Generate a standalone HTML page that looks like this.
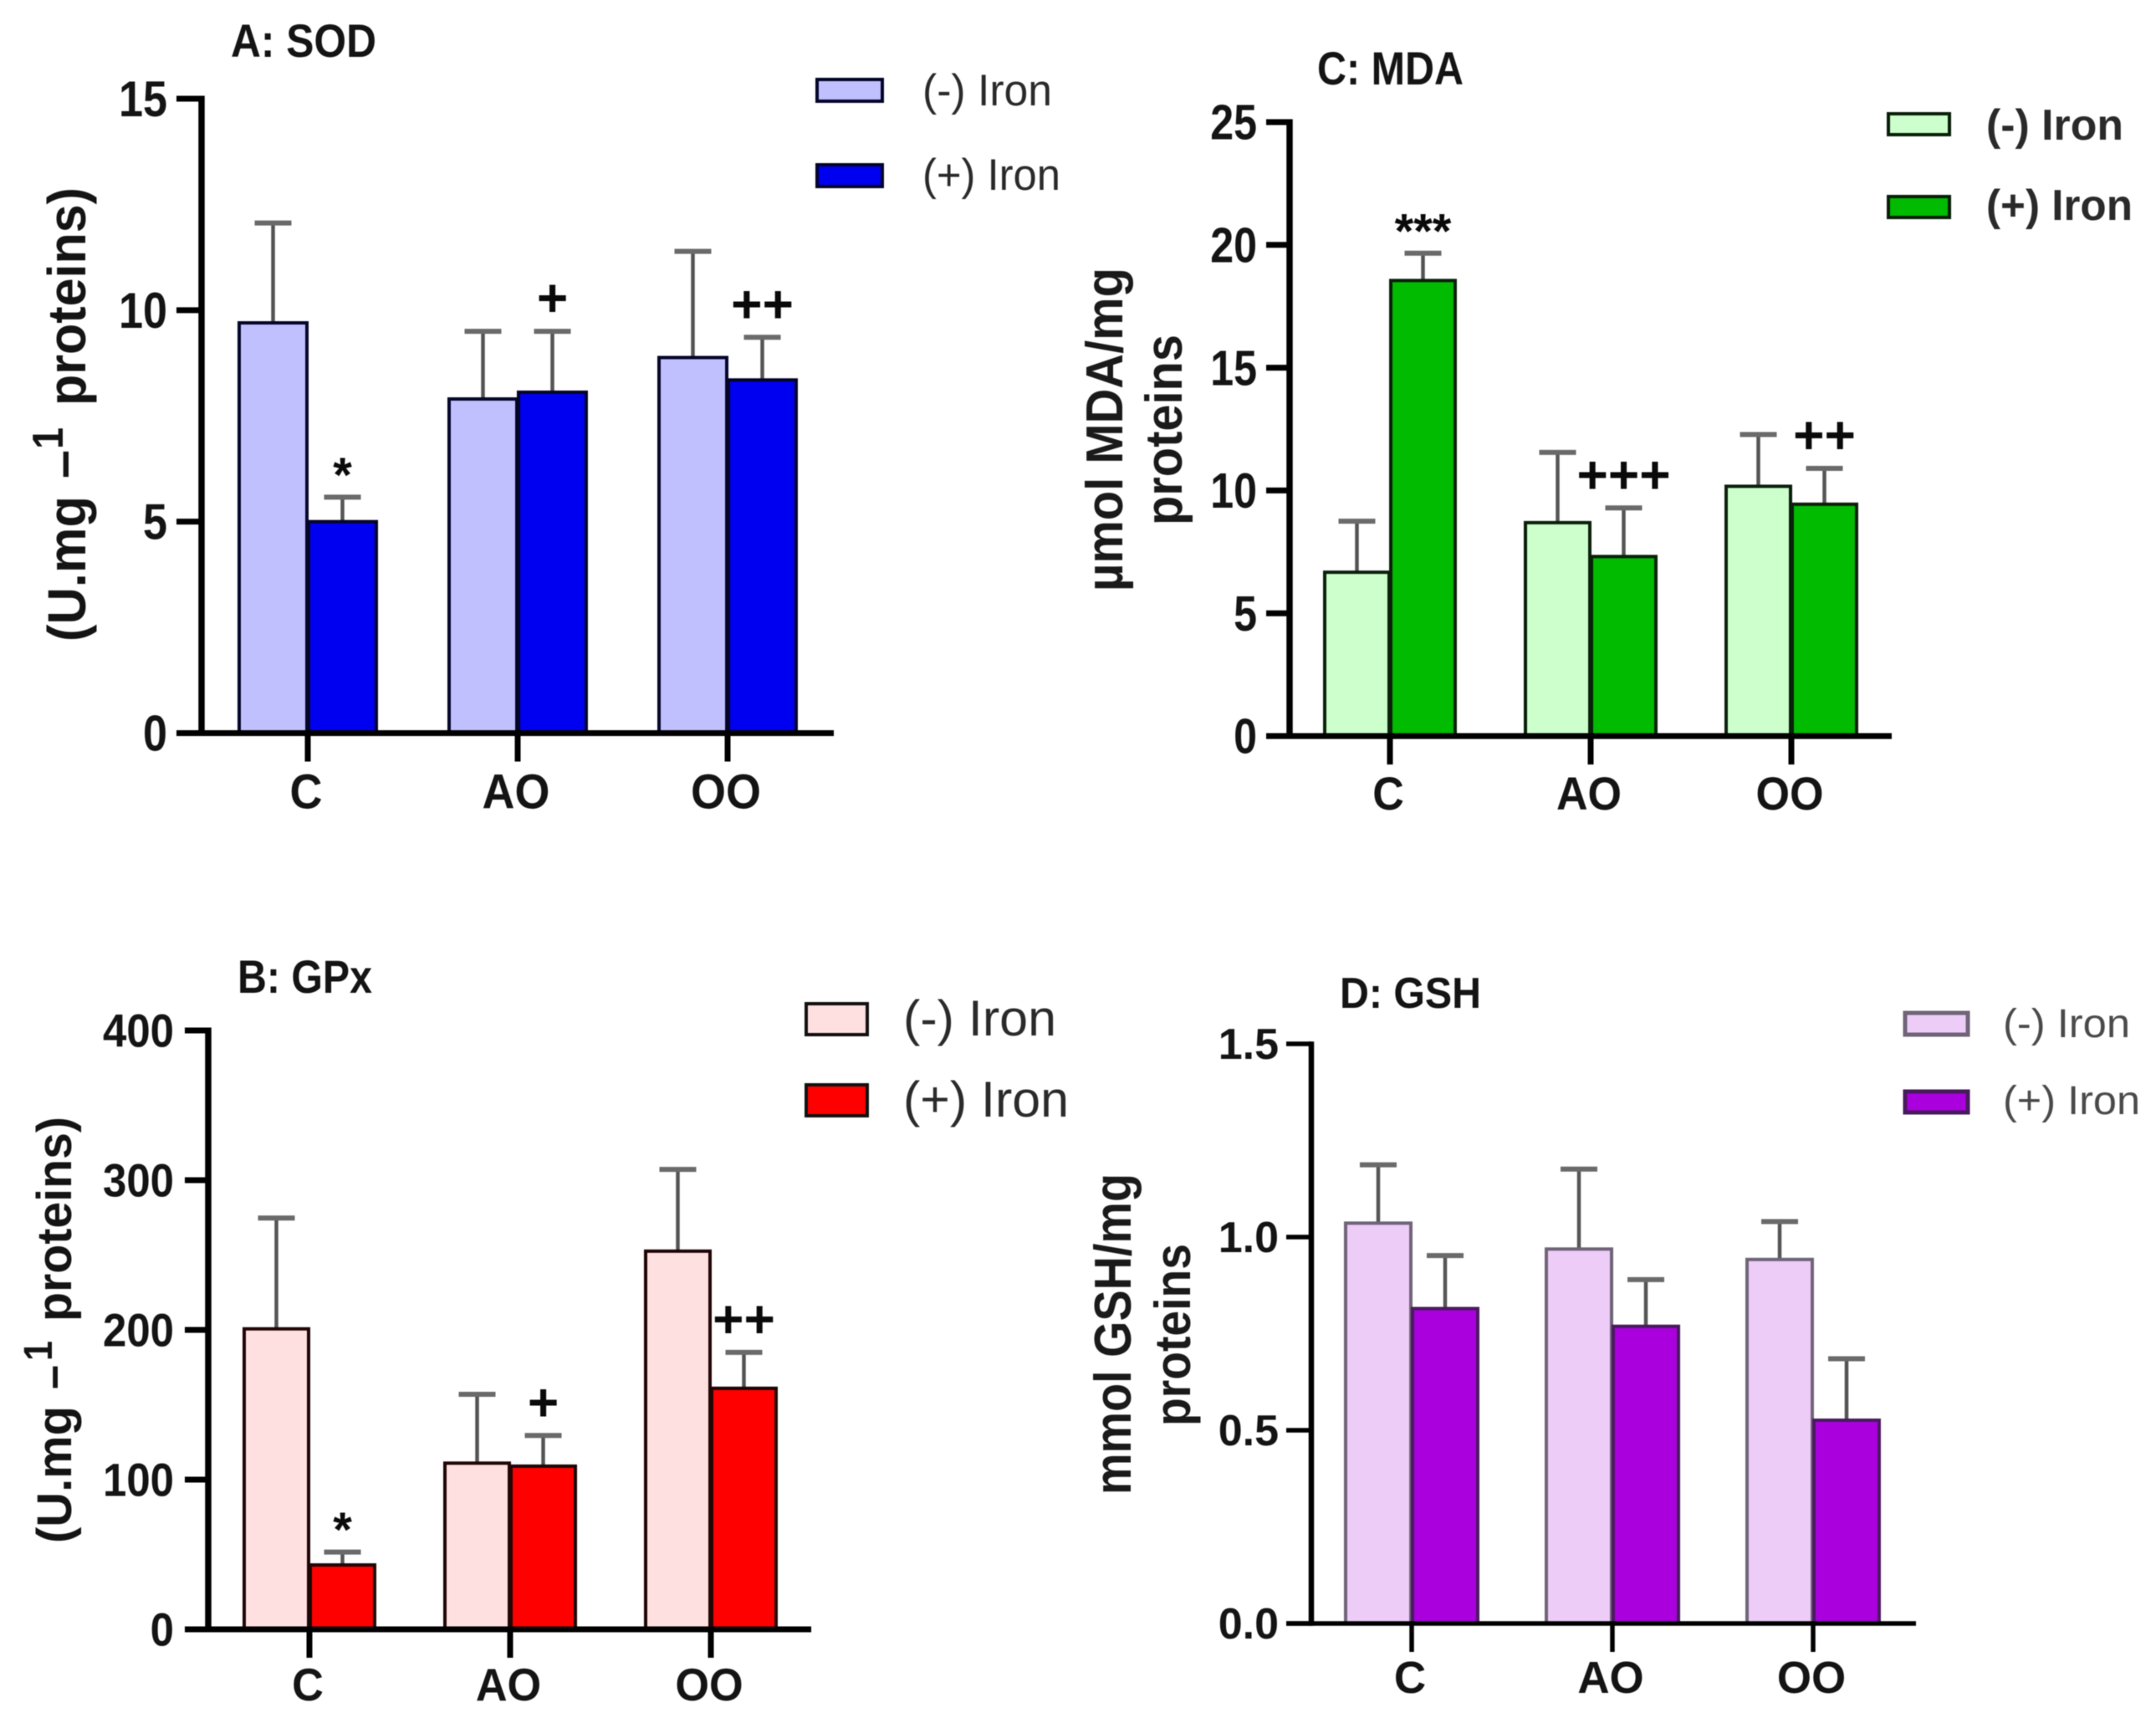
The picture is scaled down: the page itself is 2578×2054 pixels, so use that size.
<!DOCTYPE html>
<html lang="en">
<head>
<meta charset="utf-8">
<title>Antioxidant markers with and without iron</title>
<style>
html,body{margin:0;padding:0;background:#fff}
svg{display:block;font-family:"Liberation Sans",sans-serif;filter:blur(0.6px)}
.t{font-weight:bold;font-size:56px;fill:#141414}
.yt{font-weight:bold;font-size:64px;fill:#141414}
.yt2{font-weight:bold;font-size:62px;fill:#1a1a1a}
.lg{font-size:53px;fill:#2a2a2a}
</style>
</head>
<body>
<svg id="figure" width="2578" height="2054" viewBox="0 0 2578 2054" xmlns="http://www.w3.org/2000/svg">
<rect x="0" y="0" width="2578" height="2054" fill="#ffffff"/>

<g>
<text class="t" x="276" y="68" textLength="174" lengthAdjust="spacingAndGlyphs">A: SOD</text>
<text class="yt" transform="translate(102,767) rotate(-90)" textLength="174" lengthAdjust="spacingAndGlyphs">(U.mg</text>
<text class="yt" transform="translate(96,572) rotate(-90)" textLength="34" lengthAdjust="spacingAndGlyphs">–</text>
<text class="yt" style="font-size:52px" transform="translate(75,537) rotate(-90)" textLength="26" lengthAdjust="spacingAndGlyphs">1</text>
<text class="yt" transform="translate(102,485) rotate(-90)" textLength="261" lengthAdjust="spacingAndGlyphs">proteins)</text>
<rect x="977" y="95" width="78" height="26" fill="#c0c0ff" stroke="#05052a" stroke-width="4"/>
<rect x="977" y="197" width="78" height="26" fill="#0000f0" stroke="#05052a" stroke-width="4"/>
<text class="lg" x="1103" y="126" textLength="155" lengthAdjust="spacingAndGlyphs">(-) Iron</text>
<text class="lg" x="1103" y="227" textLength="165" lengthAdjust="spacingAndGlyphs">(+) Iron</text>
</g>

<g>
<text class="t" x="1575" y="101" textLength="175" lengthAdjust="spacingAndGlyphs">C: MDA</text>
<text class="yt2" transform="translate(1342,707) rotate(-90)" textLength="387" lengthAdjust="spacingAndGlyphs">µmol MDA/mg</text>
<text class="yt2" transform="translate(1413,628) rotate(-90)" textLength="228" lengthAdjust="spacingAndGlyphs">proteins</text>
<rect x="2258" y="136" width="73" height="25" fill="#ccffcc" stroke="#0a200a" stroke-width="4"/>
<rect x="2258" y="235" width="73" height="25" fill="#00bb00" stroke="#0a200a" stroke-width="4"/>
<text class="lg" style="font-weight:bold;font-size:52px" x="2375" y="167" textLength="164" lengthAdjust="spacingAndGlyphs">(-) Iron</text>
<text class="lg" style="font-weight:bold;font-size:52px" x="2375" y="263" textLength="175" lengthAdjust="spacingAndGlyphs">(+) Iron</text>
</g>

<g>
<text class="t" x="284" y="1187" textLength="161" lengthAdjust="spacingAndGlyphs">B: GPx</text>
<text class="yt" style="font-size:58px" transform="translate(85,1845) rotate(-90)" textLength="164" lengthAdjust="spacingAndGlyphs">(U.mg</text>
<text class="yt" style="font-size:58px" transform="translate(82,1661) rotate(-90)" textLength="29" lengthAdjust="spacingAndGlyphs">–</text>
<text class="yt" style="font-size:48px" transform="translate(62,1627) rotate(-90)" textLength="24" lengthAdjust="spacingAndGlyphs">1</text>
<text class="yt" style="font-size:58px" transform="translate(85,1580) rotate(-90)" textLength="245" lengthAdjust="spacingAndGlyphs">proteins)</text>
<rect x="964" y="1200" width="73" height="37" fill="#ffe0e0" stroke="#111" stroke-width="4"/>
<rect x="964" y="1297" width="73" height="37" fill="#ff0000" stroke="#111" stroke-width="4"/>
<text class="lg" style="font-size:60px" x="1080" y="1238" textLength="183" lengthAdjust="spacingAndGlyphs">(-) Iron</text>
<text class="lg" style="font-size:60px" x="1080" y="1335" textLength="198" lengthAdjust="spacingAndGlyphs">(+) Iron</text>
</g>

<g>
<text class="t" style="font-size:52px" x="1602" y="1205" textLength="169" lengthAdjust="spacingAndGlyphs">D: GSH</text>
<text class="yt2" transform="translate(1352,1787) rotate(-90)" textLength="384" lengthAdjust="spacingAndGlyphs">mmol GSH/mg</text>
<text class="yt2" style="font-size:60px" transform="translate(1423,1705) rotate(-90)" textLength="218" lengthAdjust="spacingAndGlyphs">proteins</text>
<rect x="2278" y="1211" width="75" height="26" fill="#eeccf8" stroke="#6f6478" stroke-width="5"/>
<rect x="2278" y="1305" width="75" height="25" fill="#aa00dd" stroke="#4a1a60" stroke-width="5"/>
<text class="lg" style="font-size:48px;fill:#4a4a4a" x="2395" y="1240" textLength="152" lengthAdjust="spacingAndGlyphs">(-) Iron</text>
<text class="lg" style="font-size:48px;fill:#4a4a4a" x="2395" y="1332" textLength="164" lengthAdjust="spacingAndGlyphs">(+) Iron</text>
</g>
</svg>

<script>
const categories = ['C', 'AO', 'OO'];

const sodTicks = [0, 5, 10, 15];
const sodMinus = [9.7, 7.9, 8.88];
const sodPlus = [5.0, 8.06, 8.35];
const sodMinusSd = [2.36, 1.6, 2.51];
const sodPlusSd = [0.58, 1.44, 1.01];
const sodMarks = ['*', '+', '++'];

const mdaTicks = [0, 5, 10, 15, 20, 25];
const mdaMinus = [6.67, 8.69, 10.17];
const mdaPlus = [18.55, 7.31, 9.44];
const mdaMinusSd = [2.08, 2.86, 2.11];
const mdaPlusSd = [1.11, 1.98, 1.46];
const mdaMarks = ['***', '+++', '++'];

const gpxTicks = [0, 100, 200, 300, 400];
const gpxMinus = [200.7, 111, 252.6];
const gpxPlus = [43, 109, 161];
const gpxMinusSd = [74, 46, 54.6];
const gpxPlusSd = [8.6, 20.5, 24];
const gpxMarks = ['*', '+', '++'];

const gshTicks = ['0.0', '0.5', '1.0', '1.5'];
const gshMinus = [1.036, 0.969, 0.942];
const gshPlus = [0.815, 0.769, 0.526];
const gshMinusSd = [0.151, 0.207, 0.098];
const gshPlusSd = [0.137, 0.121, 0.159];
const gshMarks = ['', '', ''];

const SVG_NS = 'http://www.w3.org/2000/svg';
const figure = document.getElementById('figure');

function make(parent, tag, attrs, text) {
  const node = document.createElementNS(SVG_NS, tag);
  for (const key in attrs) node.setAttribute(key, attrs[key]);
  if (text !== undefined) node.textContent = text;
  parent.appendChild(node);
  return node;
}

function drawPanel(p) {
  const yScale = function (v) {
    return p.y0 - (Number(v) - p.yMin) / (p.yMax - p.yMin) * (p.y0 - p.yTop);
  };
  const xBand = function (i) {
    return p.x0 + i * p.step;
  };

  const panel = make(figure, 'g', {});
  
  

  // bars and error bars
  const series = [
    { key: 'minus', values: p.minus, sd: p.minusSd, fill: p.minusFill, stroke: p.minusStroke, side: -1 },
    { key: 'plus', values: p.plus, sd: p.plusSd, fill: p.plusFill, stroke: p.plusStroke, side: 0 }
  ];
  series.forEach(function (s) {
    s.values.forEach(function (v, i) {
      const left = xBand(i) + s.side * p.barW;
      const cx = left + p.barW / 2;
      const top = yScale(v);
      const errTop = yScale(v + s.sd[i]);

      const stem = make(panel, 'line', { x1: cx, x2: cx, y1: top, y2: errTop, stroke: '#555', 'stroke-width': 4.5 });
      
      

      const cap = make(panel, 'line', { x1: cx - 22, x2: cx + 22, y1: errTop, y2: errTop, stroke: '#6a6a6a', 'stroke-width': 6 });
      
      

      const bar = make(panel, 'rect', {
        x: left + 1, y: top, width: p.barW - 2, height: p.y0 - top,
        fill: s.fill, stroke: s.stroke, 'stroke-width': 4
      });
      
      
    });
  });

  // significance marks sit above the upper error cap of the (+) Iron bars
  p.marks.forEach(function (m, i) {
    if (!m) return;
    const isStar = m.charAt(0) === '*';
    const fs = isStar ? 58 : 64;
    const cx = xBand(i) + p.barW / 2;
    const errTop = yScale(p.plus[i] + p.plusSd[i]);
    const shift = isStar ? 0.56 : 0.33;
    const mark = make(panel, 'text', {
      x: cx, y: errTop - 39 + shift * fs, 'text-anchor': 'middle',
      'font-size': fs, 'font-weight': 'bold', fill: '#0a0a0a'
    }, m);
    
    
  });

  // y axis
  const yAxis = make(panel, 'line', { x1: p.axisX, x2: p.axisX, y1: p.yTop - p.tickW / 2, y2: p.y0 + p.tickW / 2, stroke: '#000', 'stroke-width': p.axisW });
  
  

  p.ticks.forEach(function (t) {
    const y = yScale(t);
    const tick = make(panel, 'line', { x1: p.axisLeft, x2: p.axisX, y1: y, y2: y, stroke: '#000', 'stroke-width': p.tickW });
    
    

    const label = make(panel, 'text', {
      transform: 'translate(' + p.labelRight + ',' + (y + p.tickFs * 0.35) + ') scale(' + p.tickSx + ',1)',
      'text-anchor': 'end', 'font-size': p.tickFs, 'font-weight': 'bold', fill: '#141414'
    }, String(t));
    
    
  });

  // x axis
  const xAxis = make(panel, 'line', { x1: p.axisLeft, x2: p.axisRight, y1: p.y0, y2: p.y0, stroke: '#000', 'stroke-width': p.tickW });
  
  

  categories.forEach(function (c, i) {
    const x = xBand(i);
    const tick = make(panel, 'line', { x1: x, x2: x, y1: p.y0, y2: p.y0 + 34, stroke: '#000', 'stroke-width': p.tickW });
    
    

    const label = make(panel, 'text', {
      transform: 'translate(' + (x - 2) + ',' + (p.y0 + p.catDy) + ') scale(' + p.catSx + ',1)',
      'text-anchor': 'middle', 'font-size': p.catFs, 'font-weight': 'bold', fill: '#141414'
    }, c);
    
    
  });
}

drawPanel({
  id: 'sod', yMin: 0, yMax: 15, yTop: 118, y0: 876.5, axisX: 241, axisLeft: 211, axisRight: 997,
  axisW: 7.5, tickW: 7, labelRight: 200, tickFs: 60, tickSx: 0.87, catFs: 58, catSx: 0.93,
  x0: 368, step: 251, barW: 83, catDy: 90,
  ticks: sodTicks, minus: sodMinus, plus: sodPlus, minusSd: sodMinusSd, plusSd: sodPlusSd, marks: sodMarks,
  minusFill: '#c0c0ff', minusStroke: '#05052a', plusFill: '#0000f0', plusStroke: '#05052a'
});

drawPanel({
  id: 'mda', yMin: 0, yMax: 25, yTop: 146, y0: 880, axisX: 1542, axisLeft: 1514, axisRight: 2262,
  axisW: 7.5, tickW: 7, labelRight: 1503, tickFs: 59, tickSx: 0.85, catFs: 56, catSx: 0.93,
  x0: 1662, step: 240, barW: 79, catDy: 88,
  ticks: mdaTicks, minus: mdaMinus, plus: mdaPlus, minusSd: mdaMinusSd, plusSd: mdaPlusSd, marks: mdaMarks,
  minusFill: '#ccffcc', minusStroke: '#0a200a', plusFill: '#00bb00', plusStroke: '#0a200a'
});

drawPanel({
  id: 'gpx', yMin: 0, yMax: 400, yTop: 1232, y0: 1948, axisX: 249, axisLeft: 221, axisRight: 970,
  axisW: 7.5, tickW: 7, labelRight: 208, tickFs: 56, tickSx: 0.91, catFs: 55, catSx: 0.95,
  x0: 370, step: 240, barW: 79, catDy: 85,
  ticks: gpxTicks, minus: gpxMinus, plus: gpxPlus, minusSd: gpxMinusSd, plusSd: gpxPlusSd, marks: gpxMarks,
  minusFill: '#ffe0e0', minusStroke: '#200505', plusFill: '#ff0000', plusStroke: '#200505'
});

drawPanel({
  id: 'gsh', yMin: 0, yMax: 1.5, yTop: 1248, y0: 1941, axisX: 1568, axisLeft: 1538, axisRight: 2291,
  axisW: 6.5, tickW: 5.5, labelRight: 1529, tickFs: 52, tickSx: 1, catFs: 54, catSx: 0.98,
  x0: 1688, step: 240, barW: 80, catDy: 83,
  ticks: gshTicks, minus: gshMinus, plus: gshPlus, minusSd: gshMinusSd, plusSd: gshPlusSd, marks: gshMarks,
  minusFill: '#eeccf8', minusStroke: '#6f6478', plusFill: '#aa00dd', plusStroke: '#4a1a60'
});
</script>
</body>
</html>
